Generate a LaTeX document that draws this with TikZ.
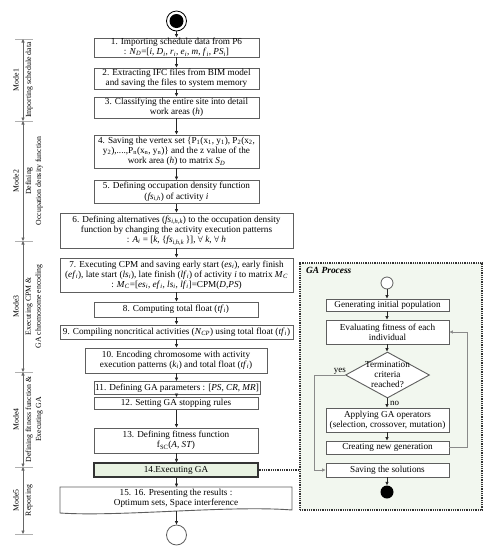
\documentclass[tikz,border=0pt]{standalone}
\usepackage{fontspec}
\setmainfont{Liberation Serif}
\usetikzlibrary{arrows.meta,shapes.geometric}
\definecolor{boxgray}{HTML}{5E5E5E}
\definecolor{linegray}{HTML}{8A8A8A}
\definecolor{tickgray}{HTML}{B0B0B0}
\definecolor{greenfill}{HTML}{E8F2E2}
\definecolor{gabg}{HTML}{F2F7EF}
\newcommand\ivar[2]{\textit{#1}\textsubscript{\textit{#2}}}
\begin{document}
\begin{tikzpicture}[x=1pt,y=-1pt,
  box/.style={draw=boxgray, line width=0.9pt, fill=white, align=center, inner sep=0pt,
    font=\fontsize{9.2}{10.2}\selectfont},
  arr/.style={-{Triangle[length=3.5pt,width=3pt]}, line width=0.7pt, draw=black!85},
  grayarr/.style={-{Triangle[length=3.5pt,width=3pt]}, line width=0.7pt, draw=linegray},
  modearr/.style={{Triangle[length=3.5pt,width=3pt]}-{Triangle[length=3.5pt,width=3pt]}, line width=0.7pt, draw=black!60},
  tick/.style={draw=tickgray, line width=0.7pt},
  modelbl/.style={rotate=90, font=\fontsize{7.8}{10}\selectfont, align=center, inner sep=1pt},
  lbl/.style={font=\fontsize{9}{10}\selectfont, inner sep=1pt}
]
\useasboundingbox (0,0) rectangle (489,550);

% start and end markers
\node[circle, draw=black, line width=0.8pt, fill=white, minimum size=20pt, inner sep=0pt] (start) at (176.5,21) {};
\node[circle, fill=black, minimum size=14pt, inner sep=0pt] (startdot) at (start.center) {};

% main boxes
\node[box, minimum width=165pt, minimum height=19pt] (b1) at (176.5,47.5)
  {1. Importing schedule data from P6\\ : \ivar{N}{D}=[\textit{i}, \ivar{D}{i}, \ivar{r}{i}, \ivar{e}{i}, \textit{m}, \ivar{f}{i}, \ivar{PS}{i}]};
\node[box, minimum width=165pt, minimum height=21pt] (b2) at (176.5,78.5)
  {2. Extracting IFC files from BIM model\\ and saving the files to system memory};
\node[box, minimum width=165pt, minimum height=21pt] (b3) at (176.5,107.5)
  {3. Classifying the entire site into detail\\ work areas (\textit{h})};
\node[box, minimum width=165pt, minimum height=33pt] (b4) at (176.5,151.5)
  {4. Saving the vertex set \{P\textsubscript{1}(x\textsubscript{1}, y\textsubscript{1}), P\textsubscript{2}(x\textsubscript{2},\\
   y\textsubscript{2}),....,P\textsubscript{n}(x\textsubscript{n}, y\textsubscript{n})\} and the z value of the\\
   work area (\textit{h}) to matrix \ivar{S}{D}};
\node[box, minimum width=165pt, minimum height=23pt] (b5) at (176.5,192)
  {5. Defining occupation density function\\ (\ivar{fs}{i,h}) of activity \textit{i}};
\node[box, minimum width=233pt, minimum height=35pt] (b6) at (176.5,230.5)
  {6. Defining alternatives (\ivar{fs}{i,h,k}) to the occupation density\\
   function by changing the activity execution patterns\\
   : \ivar{A}{i} = [\textit{k}, \{\ivar{fs}{i,h,k}\,\}], $\forall$ \textit{k}, $\forall$ \textit{h}};
\node[box, minimum width=233pt, minimum height=34pt] (b7) at (176.5,275)
  {7. Executing CPM and saving early start (\ivar{es}{i}), early finish\\
   (\ivar{ef}{i}), late start (\ivar{ls}{i}), late finish (\ivar{lf}{i}) of activity \textit{i} to matrix \ivar{M}{C}\\
   : \ivar{M}{C}=[\ivar{es}{i}, \ivar{ef}{i}, \ivar{ls}{i}, \ivar{lf}{i}]=CPM(\textit{D},\textit{PS})};
\node[box, minimum width=164pt, minimum height=15pt] (b8) at (176,309.5)
  {8. Computing total float (\ivar{tf}{i})};
\node[box, minimum width=233pt, minimum height=14pt] (b9) at (176.5,332)
  {9. Compiling noncritical activities (\ivar{N}{CP}) using total float (\ivar{tf}{i})};
\node[box, minimum width=182pt, minimum height=25pt] (b10) at (176,360.5)
  {10. Encoding chromosome with activity\\ execution patterns (\ivar{k}{i}) and total float (\ivar{tf}{i})};
\node[box, minimum width=166pt, minimum height=13pt] (b11) at (177,388)
  {11. Defining GA parameters : [\textit{PS}, \textit{CR}, \textit{MR}]};
\node[box, minimum width=164pt, minimum height=12pt] (b12) at (176,403.5)
  {12. Setting GA stopping rules};
\node[box, minimum width=164pt, minimum height=25pt] (b13) at (176,440.5)
  {13. Defining fitness function\\ f\textsubscript{SC}(\textit{A}, \textit{ST})};
\node[box, draw=black!80, line width=1.1pt, fill=greenfill, minimum width=164pt, minimum height=14pt] (b14) at (176,470)
  {14.Executing GA};
% document shape for box 15
\draw[draw=boxgray, line width=0.9pt, fill=white]
  (60,487) -- (292,487) -- (292,510) .. controls (230,505) and (120,517) .. (60,513) -- cycle;
\node[box, draw=none, fill=none] (b15) at (176,498)
  {15. 16. Presenting the results :\\ Optimum sets, Space interference};
\coordinate (b15top) at (176.5,487);
\coordinate (b15bot) at (176.5,511);
\node[circle, draw=boxgray, line width=0.8pt, fill=white, minimum size=20pt, inner sep=0pt] (endc) at (176.5,535) {};

% main arrows
\draw[arr] (start) -- (b1.north -| start);
\draw[arr] (b1.south -| start) -- (b2.north -| start);
\draw[arr] (b2.south -| start) -- (b3.north -| start);
\draw[arr] (b3.south -| start) -- (b4.north -| start);
\draw[arr] (b4.south -| start) -- (b5.north -| start);
\draw[arr] (b5.south -| start) -- (b6.north -| start);
\draw[arr] (b6.south -| start) -- (b7.north -| start);
\draw[arr] (b7.south -| start) -- (b8.north -| start);
\draw[arr] (b8.south -| start) -- (b9.north -| start);
\draw[arr] (b9.south -| start) -- (b10.north -| start);
\draw[arr] (b10.south -| start) -- (b11.north -| start);
\draw[arr] (b11.south -| start) -- (b12.north -| start);
\draw[arr] (b12.south -| start) -- (b13.north -| start);
\draw[arr] (b13.south -| start) -- (b14.north -| start);
\draw[arr] (b14.south -| start) -- (b15top);
\draw[arr] (b15bot) -- (endc);

% mode labels
\foreach \n/\yy in {t1/39, t2/121, t3/241, t4/372, t5/467, t6/534}{
  \coordinate (\n) at (23,\yy);
  \draw[tick] (15,\yy) -- (33,\yy);
}
\draw[modearr] (t1) -- (t2);
\draw[modearr] (t2) -- (t3);
\draw[modearr] (t3) -- (t4);
\draw[modearr] (t4) -- (t5);
\draw[modearr] (t5) -- (t6);
\node[modelbl, anchor=south] (m1) at (20,80) {Mode1};
\node[modelbl, anchor=north] (m1s) at (24.5,80) {Importing schedule data};
\node[modelbl, anchor=south] (m2) at (20,181) {Mode2};
\node[modelbl, anchor=north] (m2s) at (24.5,181) {Defining\\ Occupation density function};
\node[modelbl, anchor=south] (m3) at (20,306.5) {Mode3};
\node[modelbl, anchor=north] (m3s) at (24.5,306.5) {Executing CPM \&\\ GA chromosome encoding};
\node[modelbl, anchor=south] (m4) at (20,419.5) {Mode4};
\node[modelbl, anchor=north] (m4s) at (24.5,419.5) {Defining fitness function \&\\ Executing GA};
\node[modelbl, anchor=south] (m5) at (20,500.5) {Mode5};
\node[modelbl, anchor=north] (m5s) at (24.5,500.5) {Reporting};

% GA process panel
\node[draw=black!80, line width=1.1pt, dash pattern=on 1pt off 0.8pt, fill=gabg,
  minimum width=182pt, minimum height=247pt, inner sep=0pt] (ga) at (391,386.5) {};
\node[anchor=west, font=\fontsize{9.4}{10}\selectfont\bfseries\itshape, inner sep=0pt] (gatitle) at (306,270) {GA Process};
\draw[draw=black!80, line width=1.1pt, dash pattern=on 1pt off 0.8pt] (b14.east) -- (b14.east -| ga.west);

\node[circle, draw=boxgray, line width=0.8pt, fill=white, minimum size=12pt, inner sep=0pt] (gstart) at (387,283) {};
\node[box, minimum width=123pt, minimum height=12pt] (g1) at (387.5,305)
  {Generating initial population};
\node[box, minimum width=123pt, minimum height=24pt] (g2) at (387.5,332)
  {Evaluating fitness of each\\ individual};
\node[diamond, draw=boxgray, line width=0.9pt, fill=white, minimum width=84pt, minimum height=46pt, inner sep=0pt] (gd) at (387.5,375) {};
\node[font=\fontsize{9.2}{10}\selectfont, align=center, inner sep=0pt] (gdt) at (gd.center) {Termination\\ criteria\\ reached?};
\node[box, minimum width=123pt, minimum height=24pt] (g3) at (387.5,420)
  {Applying GA operators\\ (selection, crossover, mutation)};
\node[box, minimum width=123pt, minimum height=13pt] (g4) at (387.5,447.5)
  {Creating new generation};
\node[box, minimum width=123pt, minimum height=14pt] (g5) at (387.5,470)
  {Saving the solutions};
\node[circle, fill=black, minimum size=13pt, inner sep=0pt] (gend) at (387,492) {};

\draw[arr] (gstart) -- (g1.north -| gstart);
\draw[arr] (g1.south -| gstart) -- (g2.north -| gstart);
\draw[arr] (g2.south -| gstart) -- (gd.north -| gstart);
\draw[arr] (gd.south -| gstart) -- (g3.north -| gstart);
\draw[arr] (g3.south -| gstart) -- (g4.north -| gstart);
\draw[arr] (g5.south -| gstart) -- (gend);
\node[lbl, anchor=west] (no) at (389,403) {no};
\coordinate (yc1) at (314,375);
\coordinate (yc2) at (314,470);
\draw[grayarr] (gd.west) -- (yc1) -- (yc2) -- (g5.west);
\node[lbl, anchor=south east] (yes) at (347,376) {yes};
\coordinate (fc1) at (467,447.5);
\coordinate (fc2) at (467,332);
\draw[grayarr] (g4.east) -- (fc1) -- (fc2) -- (g2.east);
\end{tikzpicture}
\end{document}
